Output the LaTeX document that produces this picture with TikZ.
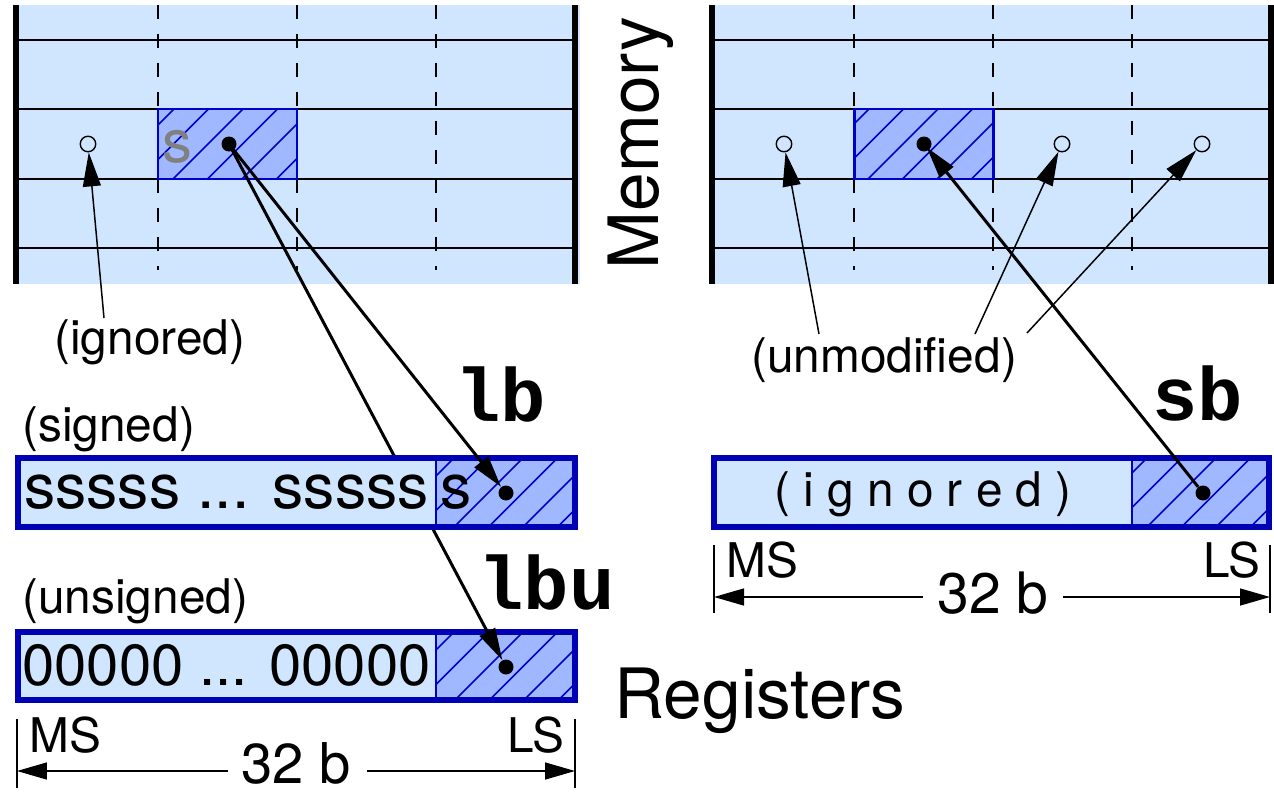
\documentclass[tikz,border=0pt]{standalone}
\usepackage{fontspec}
\setmainfont{TeX Gyre Heros}
\newfontfamily\codefont{Liberation Mono}
\usetikzlibrary{arrows.meta}
\definecolor{lightb}{HTML}{D0E6FF}
\definecolor{hatchb}{HTML}{A0B8FF}
\definecolor{darkb}{HTML}{0000CC}
\definecolor{regb}{HTML}{0000B4}
\definecolor{grays}{HTML}{808080}
\newcommand\fsz[1]{\fontsize{#1}{#1}\selectfont}
% x0,y0,x1,y1,c0  (pixel coords, y downward)
\newcommand\hatchbox[5]{%
  \fill[hatchb] (#1,#2) rectangle (#3,#4);
  \begin{scope}
    \clip (#1,#2) rectangle (#3,#4);
    \foreach \k in {-12,...,12}{
      \draw[darkb, line width=0.85pt] ({#5+\k*34.5-#4},#4) -- ({#5+\k*34.5-#2},#2);
    }
  \end{scope}}
% memory block with x offset
\newcommand\memblock[1]{%
  \fill[lightb] (#1+13,5) rectangle (#1+580,284);
  \foreach \yy in {40,109,179,248}{
    \draw[line width=1.1pt] (#1+17,\yy) -- (#1+575,\yy);
  }
  \foreach \xx in {158,297,436}{
    \draw[line width=1pt, dash pattern=on 0.28cm off 0.3cm] (#1+\xx,5) -- (#1+\xx,270);
  }
  \draw[line width=3.4pt] (#1+16,5) -- (#1+16,284);
  \draw[line width=3.4pt] (#1+575,5) -- (#1+575,284);
}
\tikzset{
  dotn/.style={circle, fill=black, inner sep=0pt, minimum size=0.3cm},
  hol/.style={circle, draw=black, line width=0.8pt, inner sep=0pt, minimum size=0.31cm},
  thickarr/.style={line width=1.7pt, -{Triangle[length=0.64cm, width=0.34cm]}},
  thinarr/.style={line width=0.85pt, -{Triangle[length=0.68cm, width=0.36cm]}},
  dimarr/.style={line width=0.85pt, -{Triangle[length=0.6cm, width=0.34cm]}},
  tick/.style={line width=1.1pt},
  lbl/.style={inner sep=0pt, font=\fsz{27.2}},
  code/.style={inner sep=0pt, font=\codefont\bfseries\fsz{43}},
  big/.style={inner sep=0pt, font=\fsz{39.5}},
}
\begin{document}
\begin{tikzpicture}[x=0.02cm, y=-0.02cm]
\useasboundingbox (0,0) rectangle (1274,791);

% ---------- memories ----------
\memblock{0}
\memblock{696}
\hatchbox{158}{109}{297}{179}{283}
\draw[darkb, line width=1.7pt] (158,109) rectangle (297,179);
\hatchbox{854}{109}{993}{179}{978}
\draw[darkb, line width=1.7pt] (854,109) rectangle (993,179);
\node[anchor=base west, inner sep=0pt, text=grays, font=\fsz{34}] (gs) at (162,162) {s};

\node[dotn] (m1) at (229,144) {};
\node[dotn] (m2) at (924,144) {};
\node[hol] (c0) at (88,144) {};
\node[hol] (c1) at (784,144) {};
\node[hol] (c2) at (1062,144) {};
\node[hol] (c3) at (1202,144) {};

\node[big, rotate=90] (memlbl) at (641,143) {Memory};

% ---------- unsigned register ----------
\fill[lightb] (18,632) rectangle (575,700);
\hatchbox{436}{632}{575}{700}{1086}
\draw[darkb, line width=1.1pt] (436,632) -- (436,700);
\draw[regb, line width=3.4pt] (18,632) rectangle (575,700);
\node[anchor=base west, inner sep=0pt, font=\fsz{33}] (zeros) at (22,685) {00000 ... 00000};
\node[dotn] (r2) at (506,667) {};

% lbu arrow passes beneath the signed register
\draw[thickarr, shorten <=-2pt] (m1) -- (r2);

% ---------- signed register ----------
\fill[lightb] (18,458) rectangle (575,527);
\hatchbox{436}{458}{575}{527}{912}
\draw[darkb, line width=1.1pt] (436,458) -- (436,527);
\draw[regb, line width=3.4pt] (18,458) rectangle (575,527);
\node[anchor=base west, inner sep=0pt, font=\fsz{35.5}] (sss) at (24,508) {sssss ... sssss};
\node[anchor=base west, inner sep=0pt, font=\fsz{35.5}] (s1) at (440,508) {s};
\node[dotn] (r1) at (506,493) {};

\draw[thickarr, shorten <=-2pt] (m1) -- (r1);

% ---------- right register ----------
\fill[lightb] (714,458) rectangle (1269,527);
\hatchbox{1132}{458}{1269}{527}{1605}
\draw[darkb, line width=1.1pt] (1132,458) -- (1132,527);
\draw[regb, line width=3.4pt] (714,458) rectangle (1269,527);
\node[lbl] (ign2) at (923,494) {( i g n o r e d )};
\node[dotn] (r3) at (1203,493) {};

\draw[thickarr, shorten >=-2pt] (r3) -- (m2);

% ---------- labels ----------
\node[lbl, anchor=base west] (signed) at (22,441) {(signed)};
\node[lbl, anchor=base west] (unsigned) at (22,613) {(unsigned)};
\node[lbl, anchor=base west] (ignored) at (54,354) {(ignored)};
\node[lbl, anchor=base west] (unmod) at (751,372) {(unmodified)};
\node[code, anchor=base west] (lb) at (455,421) {lb};
\node[code, anchor=base west] (lbu) at (478,609) {lbu};
\node[code, anchor=base west] (sb) at (1152,420) {sb};
\node[big, anchor=base west] (regs) at (614,718) {Registers};

% ---------- pointer arrows ----------
\coordinate (ig) at (104,318);
\coordinate (u1) at (819,334);
\coordinate (u2) at (975,334);
\coordinate (u3) at (1027,333);
\draw[thinarr] (ig) -- (c0);
\draw[thinarr] (u1) -- (c1);
\draw[thinarr] (u2) -- (c2);
\draw[thinarr] (u3) -- (c3);

% ---------- dimension lines, left ----------
\draw[tick] (17,719) -- (17,788);
\draw[tick] (575,719) -- (575,788);
\node[lbl, anchor=base west] (ms1) at (29,752) {MS};
\node[lbl, anchor=base east] (ls1) at (565,752) {LS};
\node[inner sep=0pt, font=\fsz{32}, anchor=base] (w1) at (296,783) {32 b};
\coordinate (t1l) at (17,771);
\coordinate (t1r) at (575,771);
\coordinate (g1l) at (228,771);
\coordinate (g1r) at (367,771);
\draw[dimarr] (g1l) -- (t1l);
\draw[dimarr] (g1r) -- (t1r);

% ---------- dimension lines, right ----------
\draw[tick] (714,545) -- (714,613);
\draw[tick] (1270,545) -- (1270,613);
\node[lbl, anchor=base west] (ms2) at (726,577) {MS};
\node[lbl, anchor=base east] (ls2) at (1261,577) {LS};
\node[inner sep=0pt, font=\fsz{32.5}, anchor=base] (w2) at (993,613) {32 b};
\coordinate (t2l) at (714,597);
\coordinate (t2r) at (1270,597);
\coordinate (g2l) at (923,597);
\coordinate (g2r) at (1063,597);
\draw[dimarr] (g2l) -- (t2l);
\draw[dimarr] (g2r) -- (t2r);
\end{tikzpicture}
\end{document}
